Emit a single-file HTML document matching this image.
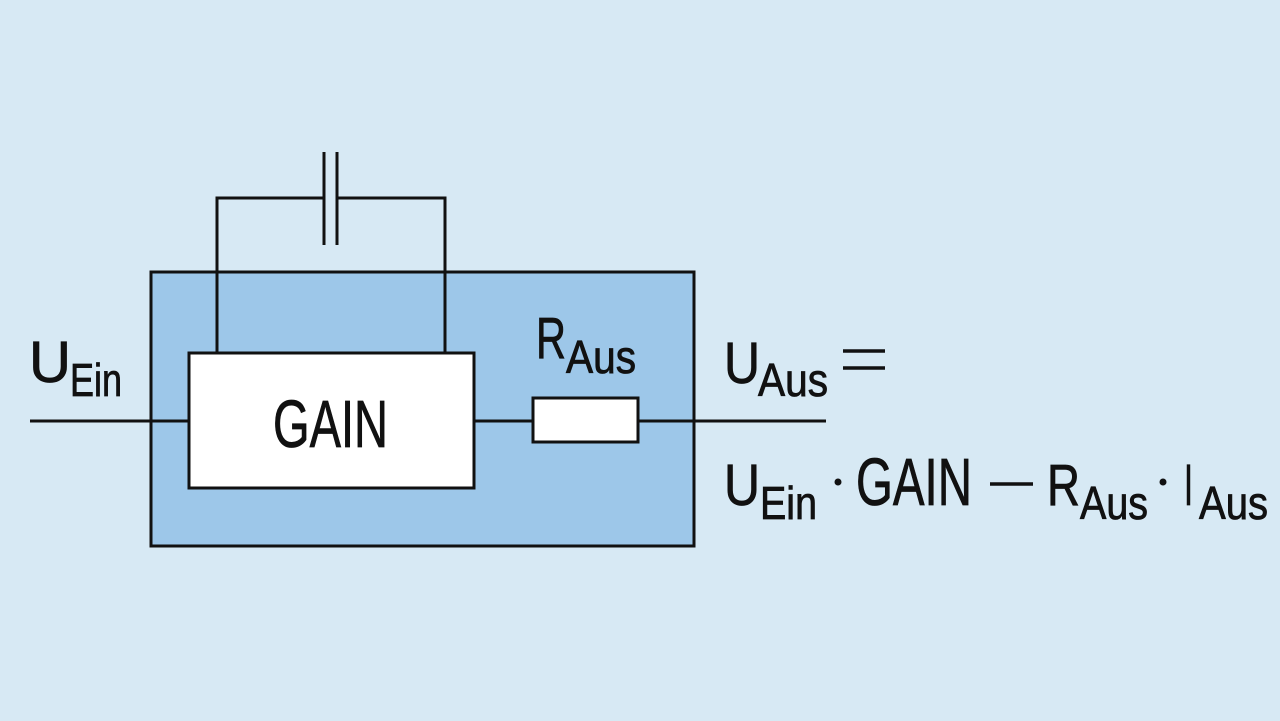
<!DOCTYPE html>
<html><head><meta charset="utf-8"><style>
html,body{margin:0;padding:0;background:#d7e9f4;}
svg{display:block}
text{font-family:"Liberation Sans Narrow","Liberation Sans",sans-serif;fill:#111;stroke:#111;stroke-width:0.8;}
</style></head><body>
<svg width="1280" height="721" viewBox="0 0 1280 721" xmlns="http://www.w3.org/2000/svg">
<rect width="1280" height="721" fill="#d7e9f4"/>
<rect x="151" y="272" width="543" height="274" fill="#9dc7e9" stroke="#111" stroke-width="3"/>
<g stroke="#111" stroke-width="3" fill="none">
<polyline points="217,353 217,198 324,198"/>
<polyline points="336,198 445,198 445,353"/>
<line x1="324" y1="152" x2="324" y2="245"/>
<line x1="337" y1="152" x2="337" y2="245"/>
<line x1="30" y1="421" x2="189" y2="421"/>
<line x1="474" y1="421" x2="533" y2="421"/>
<line x1="638" y1="421" x2="826" y2="421"/>
</g>
<rect x="189" y="353" width="285" height="135" fill="#fff" stroke="#111" stroke-width="3"/>
<rect x="533" y="398" width="105" height="44" fill="#fff" stroke="#111" stroke-width="3"/>
<text x="273" y="447" font-size="67" textLength="115" lengthAdjust="spacingAndGlyphs">GAIN</text>
<text x="29" y="382" font-size="58" textLength="42" lengthAdjust="spacingAndGlyphs">U</text>
<text x="70" y="396" font-size="46" textLength="52" lengthAdjust="spacingAndGlyphs">Ein</text>
<text x="536" y="358" font-size="58" textLength="30" lengthAdjust="spacingAndGlyphs">R</text>
<text x="566" y="373" font-size="46" textLength="70" lengthAdjust="spacingAndGlyphs">Aus</text>
<text x="724" y="383" font-size="58" textLength="36" lengthAdjust="spacingAndGlyphs">U</text>
<text x="758" y="396" font-size="46" textLength="70" lengthAdjust="spacingAndGlyphs">Aus</text>
<g stroke="#111" stroke-width="3.5">
<line x1="843" y1="351" x2="885" y2="351"/>
<line x1="843" y1="368" x2="885" y2="368"/>
<line x1="990" y1="484" x2="1033" y2="484"/>
</g>
<text x="724" y="505" font-size="58" textLength="36" lengthAdjust="spacingAndGlyphs">U</text>
<text x="760" y="519" font-size="46" textLength="57" lengthAdjust="spacingAndGlyphs">Ein</text>
<circle cx="838" cy="482" r="3.5" fill="#111"/>
<text x="856" y="505" font-size="67" textLength="116" lengthAdjust="spacingAndGlyphs">GAIN</text>
<text x="1047" y="505" font-size="58" textLength="33" lengthAdjust="spacingAndGlyphs">R</text>
<text x="1080" y="519" font-size="46" textLength="68" lengthAdjust="spacingAndGlyphs">Aus</text>
<circle cx="1163" cy="482" r="3.5" fill="#111"/>
<text x="1184" y="505" font-size="58" textLength="9" lengthAdjust="spacingAndGlyphs">I</text>
<text x="1199" y="519" font-size="46" textLength="69" lengthAdjust="spacingAndGlyphs">Aus</text>
</svg>
</body></html>
